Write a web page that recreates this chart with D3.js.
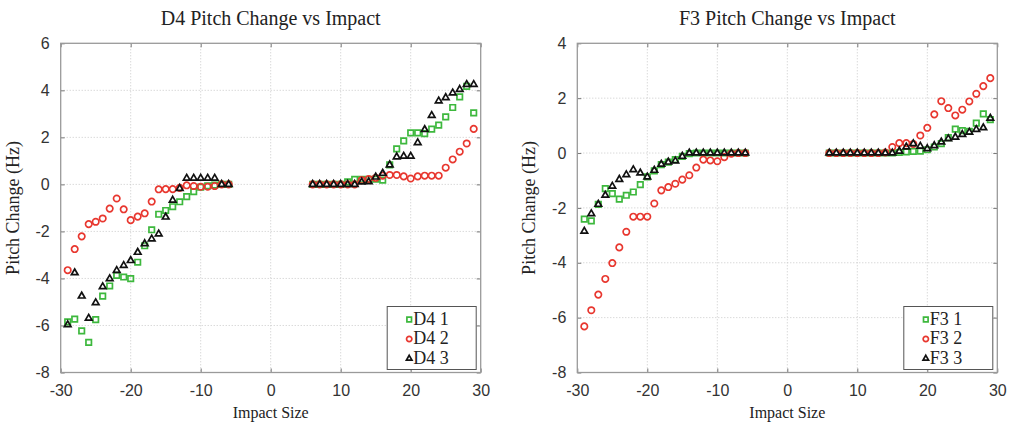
<!DOCTYPE html>
<html>
<head>
<meta charset="utf-8">
<script src="https://cdn.jsdelivr.net/npm/d3@7/dist/d3.min.js"></script>
<style>
  html, body { margin: 0; padding: 0; background: #fff; }
  svg { display: block; }
</style>
</head>
<body>
<svg id="chart" width="1011" height="424"></svg>
<script>
// Impact sizes (same for every series)
const impact = [-29, -28, -27, -26, -25, -24, -23, -22, -21, -20, -19, -18, -17, -16, -15, -14, -13, -12, -11, -10, -9, -8, -7, -6,
                6, 7, 8, 9, 10, 11, 12, 13, 14, 15, 16, 17, 18, 19, 20, 21, 22, 23, 24, 25, 26, 27, 28, 29];

// D4 pitch change (Hz)
const d4Run1 = [-5.85, -5.73, -6.23, -6.72, -5.75, -4.75, -4.32, -3.87, -3.94, -4.01, -3.31, -2.61, -1.93, -1.27, -1.11, -0.95, -0.74, -0.52, -0.31, -0.12, -0.06, -0.03, 0, 0,
                0, 0, 0, 0, 0, 0.11, 0.21, 0.21, 0.21, 0.22, 0.18, 0.83, 1.51, 1.85, 2.19, 2.19, 2.16, 2.35, 2.52, 2.87, 3.27, 3.72, 4.17, 3.04];
const d4Run2 = [-3.65, -2.75, -2.21, -1.69, -1.59, -1.45, -1.03, -0.6, -1.06, -1.52, -1.37, -1.23, -0.73, -0.21, -0.2, -0.2, -0.15, -0.04, -0.07, -0.1, -0.1, -0.07, 0, 0,
                0, 0, 0, 0, 0, 0, 0, 0.18, 0.23, 0.28, 0.37, 0.4, 0.4, 0.34, 0.25, 0.34, 0.37, 0.37, 0.37, 0.71, 1.06, 1.39, 1.74, 2.36];
const d4Run3 = [-5.97, -3.76, -4.75, -5.69, -5.03, -4.35, -4.01, -3.66, -3.45, -3.24, -2.89, -2.52, -2.32, -2.11, -1.39, -0.67, -0.17, 0.26, 0.26, 0.26, 0.26, 0.26, 0, 0,
                0, 0, 0, 0, 0, 0, 0, 0.1, 0.11, 0.31, 0.47, 0.83, 1.17, 1.2, 1.2, 1.77, 2.33, 2.93, 3.55, 3.69, 3.89, 4.04, 4.25, 4.25];

// F3 pitch change (Hz)
const f3Run1 = [-2.41, -2.47, -1.87, -1.3, -1.48, -1.68, -1.54, -1.42, -1.15, -0.87, -0.65, -0.42, -0.33, -0.24, -0.12, -0.02, 0, 0, 0, 0, 0, 0, 0, 0,
                0, 0, 0, 0, 0, 0, 0, 0, 0, 0, 0.02, 0.04, 0.06, 0.07, 0.12, 0.22, 0.34, 0.56, 0.87, 0.82, 0.79, 1.09, 1.43, 1.22];
const f3Run2 = [-6.32, -5.73, -5.16, -4.59, -4.01, -3.44, -2.87, -2.32, -2.32, -2.32, -1.84, -1.36, -1.24, -1.12, -0.97, -0.81, -0.53, -0.24, -0.27, -0.3, -0.15, -0.02, 0, 0,
                0, 0, 0, 0, 0, 0, 0, 0, 0.02, 0.22, 0.36, 0.36, 0.33, 0.64, 0.92, 1.41, 1.89, 1.64, 1.37, 1.58, 1.88, 2.16, 2.44, 2.73];
const f3Run3 = [-2.85, -2.21, -1.87, -1.54, -1.21, -0.96, -0.79, -0.61, -0.73, -0.87, -0.63, -0.41, -0.33, -0.29, -0.12, 0, 0, 0, 0, 0, 0, 0, 0, 0,
                0, 0, 0, 0, 0, 0, 0, 0, 0, 0, 0.07, 0.22, 0.34, 0.25, 0.16, 0.27, 0.4, 0.52, 0.58, 0.68, 0.76, 0.86, 0.92, 1.27];

// Axis ticks
const xTicks = [-30, -20, -10, 0, 10, 20, 30];
const d4YTicks = [-8, -6, -4, -2, 0, 2, 4, 6];
const f3YTicks = [-8, -6, -4, -2, 0, 2, 4];

const d4Labels = ["D4 1", "D4 2", "D4 3"];
const f3Labels = ["F3 1", "F3 2", "F3 3"];

const styles = [
  { color: "#3db83d", shape: "square" },
  { color: "#e8372f", shape: "circle" },
  { color: "#111111", shape: "triangle" }
];

const svg = d3.select("#chart");
const serif = "'Liberation Serif', 'Times New Roman', serif";
const sans = "'Liberation Sans', Arial, sans-serif";
const plainNum = d => String(d);

function markerPath(shape, scale = 1) {
  if (shape === "square") return d3.symbol(d3.symbolSquare, 30 * scale)();
  if (shape === "circle") return d3.symbol(d3.symbolCircle, 32 * scale)();
  return d3.symbol(d3.symbolTriangle, 19 * scale)();
}

function drawPanel(opts) {
  const { left, right, top, bottom, title, yTicks, series, labels } = opts;
  const x = d3.scaleLinear().domain([-30, 30]).range([left, right]);
  const y = d3.scaleLinear().domain([yTicks[0], yTicks[yTicks.length - 1]]).range([bottom, top]);
  const g = svg.append("g");

  // grid
  g.append("g").selectAll("line").data(xTicks.slice(1, -1)).join("line")
    .attr("x1", d => x(d)).attr("x2", d => x(d)).attr("y1", top).attr("y2", bottom)
    .attr("stroke", "#c9c9c9").attr("stroke-width", 1).attr("stroke-dasharray", "1,2");
  g.append("g").selectAll("line").data(yTicks.slice(1, -1)).join("line")
    .attr("x1", left).attr("x2", right).attr("y1", d => y(d)).attr("y2", d => y(d))
    .attr("stroke", "#c9c9c9").attr("stroke-width", 1).attr("stroke-dasharray", "1,2");

  // axes (ticks point inward, mirrored on top/right)
  const tickStyle = sel => {
    sel.select(".domain").remove();
    sel.selectAll(".tick line").attr("stroke", "#777");
    sel.selectAll(".tick text").attr("fill", "#333").style("font-family", sans).style("font-size", "16px");
  };
  g.append("g").attr("transform", `translate(0,${bottom})`)
    .call(d3.axisBottom(x).tickValues(xTicks).tickSizeInner(-4).tickPadding(12).tickFormat(plainNum))
    .call(tickStyle);
  g.append("g").attr("transform", `translate(${left},0)`)
    .call(d3.axisLeft(y).tickValues(yTicks).tickSizeInner(-4).tickPadding(11).tickFormat(plainNum))
    .call(tickStyle);
  g.append("g").attr("transform", `translate(0,${top})`)
    .call(d3.axisTop(x).tickValues(xTicks).tickSizeInner(-4).tickFormat(""))
    .call(tickStyle);
  g.append("g").attr("transform", `translate(${right},0)`)
    .call(d3.axisRight(y).tickValues(yTicks).tickSizeInner(-4).tickFormat(""))
    .call(tickStyle);

  g.append("rect").attr("x", left).attr("y", top).attr("width", right - left).attr("height", bottom - top)
    .attr("fill", "none").attr("stroke", "#9a9a9a").attr("stroke-width", 1.3);

  // markers
  series.forEach((vals, i) => {
    const st = styles[i];
    g.append("g").selectAll("path").data(vals.map((v, k) => [impact[k], v])).join("path")
      .attr("d", markerPath(st.shape))
      .attr("transform", d => `translate(${x(d[0])},${y(d[1])})`)
      .attr("fill", "none").attr("stroke", st.color).attr("stroke-width", 1.7);
  });

  // title and axis labels
  g.append("text").attr("x", (left + right) / 2).attr("y", 25).attr("text-anchor", "middle")
    .style("font-family", serif).style("font-size", "20px").attr("fill", "#222").text(title);
  g.append("text").attr("x", (left + right) / 2).attr("y", 418).attr("text-anchor", "middle")
    .style("font-family", serif).style("font-size", "16px").attr("fill", "#222").text("Impact Size");
  g.append("text").attr("transform", `translate(${left - 42},${(top + bottom) / 2}) rotate(-90)`)
    .attr("text-anchor", "middle")
    .style("font-family", serif).style("font-size", "18px").attr("fill", "#222").text("Pitch Change (Hz)");

  // legend
  const lw = 89, lh = 63;
  const lx = right - 4.5 - lw, ly = bottom - 3 - lh;
  const lg = g.append("g");
  lg.append("rect").attr("x", lx).attr("y", ly).attr("width", lw).attr("height", lh)
    .attr("fill", "#fff").attr("stroke", "#555").attr("stroke-width", 1);
  labels.forEach((lab, i) => {
    const cy = ly + 12 + i * 19.5;
    lg.append("path").attr("d", markerPath(styles[i].shape, 0.7))
      .attr("transform", `translate(${lx + 22},${cy + 1})`)
      .attr("fill", "none").attr("stroke", styles[i].color).attr("stroke-width", 1.7);
    lg.append("text").attr("x", lx + 26).attr("y", cy + 6)
      .style("font-family", serif).style("font-size", "18px").attr("fill", "#222").text(lab);
  });
}

drawPanel({ left: 60.7, right: 480.7, top: 43.3, bottom: 372.5, title: "D4 Pitch Change vs Impact",
            yTicks: d4YTicks, series: [d4Run1, d4Run2, d4Run3], labels: d4Labels });
drawPanel({ left: 577.3, right: 997.3, top: 43.3, bottom: 372.5, title: "F3 Pitch Change vs Impact",
            yTicks: f3YTicks, series: [f3Run1, f3Run2, f3Run3], labels: f3Labels });
</script>
</body>
</html>
